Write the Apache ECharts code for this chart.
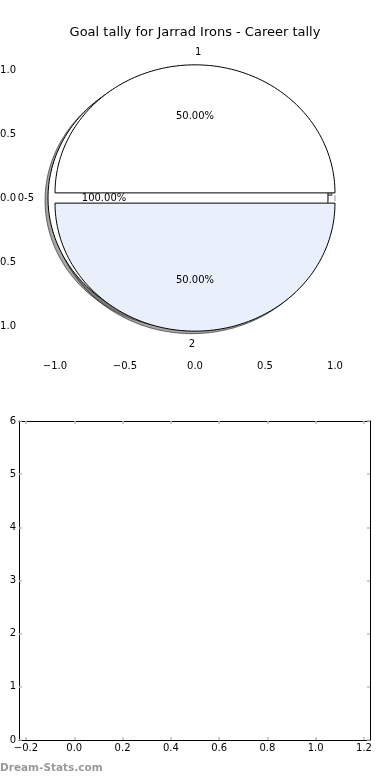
<!DOCTYPE html>
<html><head><meta charset="utf-8">
<script src="https://cdn.jsdelivr.net/npm/echarts@6/dist/echarts.min.js"></script>
<style>html,body{margin:0;padding:0;background:#fff}#c{width:390px;height:780px}</style>
</head><body><div id="c"></div>
<script>
const titleText = 'Goal tally for Jarrad Irons - Career tally';
const watermarkText = 'Dream-Stats.com';
// outer pie: a single category covering 100%
const outerLabels = ['0-5'];
const outerValues = [1];
const outerExplode = [0.05];
// inner pie: two halves
const innerLabels = ['1', '2'];
const innerValues = [1, 1];
const innerExplode = [0.04, 0.04];
// tick labels
const pieXTicks = [-1.0, -0.5, 0.0, 0.5, 1.0];
const pieYTicks = [-1.0, -0.5, 0.0, 0.5, 1.0];
const lowXTicks = [-0.2, 0.0, 0.2, 0.4, 0.6, 0.8, 1.0, 1.2];
const lowYTicks = [0, 1, 2, 3, 4, 5, 6];

const FONT = 'DejaVu Sans';
const innerFills = ['#ffffff', '#eaf0fb'];
const outerFills = ['#ffffff'];

function layoutPie(values, explode, labels, pieIdx) {
  const total = values.reduce((a, b) => a + b, 0);
  let a = 0;
  return values.map((v, i) => {
    const t1 = a, t2 = a + 360 * v / total; a = t2;
    const mid = (t1 + t2) / 2 * Math.PI / 180;
    return {
      t1, t2, mid,
      cx: explode[i] * Math.cos(mid), cy: explode[i] * Math.sin(mid),
      pct: (100 * v / total).toFixed(2) + '%',
      label: labels[i], pie: pieIdx, idx: i,
      full: Math.abs(t2 - t1 - 360) < 1e-9
    };
  });
}
const outer = layoutPie(outerValues, outerExplode, outerLabels, 0);
const inner = layoutPie(innerValues, innerExplode, innerLabels, 1);
const wedges = outer.concat(inner);

function wedgePoints(api, w, dx, dy) {
  const pts = [];
  const n = Math.max(8, Math.ceil((w.t2 - w.t1) / 1.5));
  for (let i = 0; i <= n; i++) {
    const t = (w.t1 + (w.t2 - w.t1) * i / n) * Math.PI / 180;
    const p = api.coord([w.cx + Math.cos(t), w.cy + Math.sin(t)]);
    pts.push([p[0] + dx, p[1] + dy]);
  }
  if (!w.full) {
    const c = api.coord([w.cx, w.cy]);
    pts.push([c[0] + dx, c[1] + dy]);
  }
  return pts;
}

const wedgeData = wedges.map((w, k) => [w.cx, w.cy, k]);

const fmt1 = v => (v < 0 ? '\u2212' : '') + Math.abs(v).toFixed(1);

const tickStyle = { show: true, inside: true, length: 3, lineStyle: { color: '#bdbdbd', width: 1.5 } };
const labelBase = { color: '#000', fontFamily: FONT, fontSize: 10 };

const chart = echarts.init(document.getElementById('c'), null, { renderer: 'canvas' });
chart.setOption({
  animation: false,
  backgroundColor: '#fff',
  title: {
    text: titleText, left: 'center', top: 21,
    textStyle: { fontFamily: FONT, fontSize: 13, fontWeight: 'normal', color: '#000' }
  },
  graphic: [{
    type: 'text', left: 0, top: 763,
    style: { text: watermarkText, fill: '#999', font: 'bold 10.5px "DejaVu Sans"' }
  }],
  grid: [
    { left: 21, top: 40.5, width: 348, height: 315, containLabel: false, outerBoundsMode: 'none' },
    { left: 19, top: 421, width: 351, height: 319, containLabel: false, outerBoundsMode: 'none' }
  ],
  xAxis: [
    { gridIndex: 0, type: 'value', min: -1.243, max: 1.243, position: 'bottom',
      axisLine: { show: false }, splitLine: { show: false },
      axisTick: Object.assign({ customValues: pieXTicks }, tickStyle),
      axisLabel: Object.assign({ customValues: pieXTicks, formatter: fmt1, margin: 6, hideOverlap: false }, labelBase) },
    { gridIndex: 0, type: 'value', min: -1.243, max: 1.243, position: 'top',
      axisLine: { show: false }, splitLine: { show: false },
      axisTick: Object.assign({ customValues: pieXTicks }, tickStyle),
      axisLabel: { show: false } },
    { gridIndex: 1, type: 'value', min: -0.229, max: 1.225, position: 'bottom',
      axisLine: { show: true, onZero: false, lineStyle: { color: '#000', width: 1 } }, splitLine: { show: false },
      axisTick: Object.assign({ customValues: lowXTicks }, tickStyle),
      axisLabel: Object.assign({ customValues: lowXTicks, formatter: fmt1, margin: 3 }, labelBase) },
    { gridIndex: 1, type: 'value', min: -0.229, max: 1.225, position: 'top',
      axisLine: { show: true, onZero: false, lineStyle: { color: '#000', width: 1 } }, splitLine: { show: false },
      axisTick: Object.assign({ customValues: lowXTicks }, tickStyle),
      axisLabel: { show: false } }
  ],
  yAxis: [
    { gridIndex: 0, type: 'value', min: -1.23, max: 1.23, position: 'left',
      axisLine: { show: false }, splitLine: { show: false },
      axisTick: Object.assign({ customValues: pieYTicks }, tickStyle),
      axisLabel: Object.assign({ customValues: pieYTicks, formatter: fmt1, margin: 5 }, labelBase) },
    { gridIndex: 0, type: 'value', min: -1.23, max: 1.23, position: 'right',
      axisLine: { show: false }, splitLine: { show: false },
      axisTick: Object.assign({ customValues: pieYTicks }, tickStyle),
      axisLabel: { show: false } },
    { gridIndex: 1, type: 'value', min: 0, max: 6, interval: 1, position: 'left',
      axisLine: { show: true, onZero: false, lineStyle: { color: '#000', width: 1 } }, splitLine: { show: false },
      axisTick: tickStyle,
      axisLabel: Object.assign({ margin: 3 }, labelBase) },
    { gridIndex: 1, type: 'value', min: 0, max: 6, interval: 1, position: 'right',
      axisLine: { show: true, onZero: false, lineStyle: { color: '#000', width: 1 } }, splitLine: { show: false },
      axisTick: tickStyle,
      axisLabel: { show: false } }
  ],
  series: [
    { // shadows
      type: 'custom', xAxisIndex: 0, yAxisIndex: 0, clip: false, z: 1, silent: true,
      data: wedgeData,
      renderItem: function (params, api) {
        const w = wedges[api.value(2)];
        return { type: 'polygon', shape: { points: wedgePoints(api, w, -3, 2.5) },
          style: { fill: 'rgba(77,77,77,0.5)', stroke: 'rgba(0,0,0,0.5)', lineWidth: 1 } };
      }
    },
    { // wedges
      type: 'custom', xAxisIndex: 0, yAxisIndex: 0, clip: false, z: 2, silent: true,
      data: wedgeData,
      renderItem: function (params, api) {
        const w = wedges[api.value(2)];
        const fill = w.pie === 0 ? outerFills[w.idx] : innerFills[w.idx];
        return { type: 'polygon', shape: { points: wedgePoints(api, w, 0, 0) },
          style: { fill: fill, stroke: '#000', lineWidth: 1 } };
      }
    },
    { // labels
      type: 'custom', xAxisIndex: 0, yAxisIndex: 0, clip: false, z: 3, silent: true,
      data: wedgeData,
      renderItem: function (params, api) {
        const w = wedges[api.value(2)];
        const lx = w.cx + 1.1 * Math.cos(w.mid), ly = w.cy + 1.1 * Math.sin(w.mid);
        const px = w.cx + 0.6 * Math.cos(w.mid), py = w.cy + 0.6 * Math.sin(w.mid);
        const lp = api.coord([lx, ly]), pp = api.coord([px, py]);
        return { type: 'group', children: [
          { type: 'text', x: lp[0], y: lp[1], style: { text: w.label, fill: '#000', font: '10px "DejaVu Sans"',
            align: lx > 0 ? 'left' : 'right', verticalAlign: 'middle' } },
          { type: 'text', x: pp[0], y: pp[1], style: { text: w.pct, fill: '#000', font: '10px "DejaVu Sans"',
            align: 'center', verticalAlign: 'middle' } }
        ] };
      }
    },
    { // empty lower panel
      type: 'line', xAxisIndex: 2, yAxisIndex: 2, data: [], silent: true
    }
  ]
});
</script>
</body></html>
